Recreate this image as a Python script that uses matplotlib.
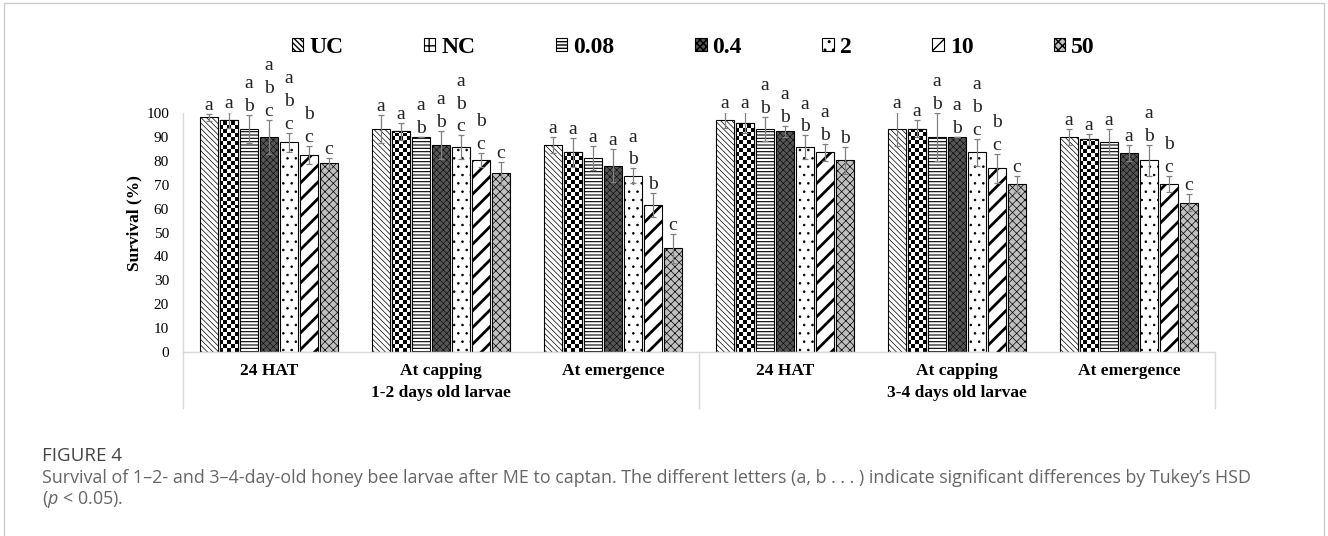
import numpy as np
import matplotlib
matplotlib.use('Agg')
import matplotlib.pyplot as plt
from matplotlib.patches import Rectangle

# data
categories = ['24 HAT', 'At capping', 'At emergence', '24 HAT', 'At capping', 'At emergence']
age_groups = ['1-2 days old larvae', '3-4 days old larvae']
treatments = ['UC', 'NC', '0.08', '0.4', '2', '10', '50']

surv_uc = [98.2, 93.4, 86.7, 97.0, 93.4, 90.0]
surv_nc = [97.0, 92.3, 83.5, 96.0, 93.4, 89.0]
surv_008 = [93.3, 90.0, 81.3, 93.4, 90.0, 87.9]
surv_04 = [90.0, 86.6, 78.0, 92.3, 90.0, 83.4]
surv_2 = [87.7, 85.6, 73.8, 85.6, 83.5, 80.2]
surv_10 = [82.4, 80.3, 61.5, 83.5, 76.8, 70.3]
surv_50 = [79.0, 74.8, 43.4, 80.2, 70.3, 62.5]

err_uc = [1.5, 5.8, 3.4, 3.3, 7.0, 3.4]
err_nc = [3.4, 3.4, 6.0, 4.3, 3.5, 2.2]
err_008 = [5.8, 0.0, 5.0, 5.0, 10.0, 5.3]
err_04 = [7.0, 6.0, 7.0, 2.3, 0.0, 3.3]
err_2 = [4.0, 5.0, 3.0, 5.0, 5.8, 6.5]
err_10 = [3.8, 3.0, 5.0, 3.4, 6.0, 3.3]
err_50 = [2.0, 4.8, 6.0, 5.7, 3.4, 3.5]

let_uc = ['a', 'a', 'a', 'a', 'a', 'a']
let_nc = ['a', 'a', 'a', 'a', 'a', 'a']
let_008 = ['ab', 'ab', 'a', 'ab', 'ab', 'a']
let_04 = ['abc', 'ab', 'a', 'ab', 'ab', 'a']
let_2 = ['abc', 'abc', 'ab', 'ab', 'abc', 'ab']
let_10 = ['bc', 'bc', 'b', 'ab', 'bc', 'bc']
let_50 = ['c', 'c', 'c', 'b', 'c', 'c']

values = [surv_uc, surv_nc, surv_008, surv_04, surv_2, surv_10, surv_50]
errors = [err_uc, err_nc, err_008, err_04, err_2, err_10, err_50]
letters = [let_uc, let_nc, let_008, let_04, let_2, let_10, let_50]

# (facecolor, hatch, hatch linewidth)
styles = [
    ('white', '\\\\\\\\\\\\', 0.5),
    ('white', '++', 1.5),
    ('white', '-----', 0.8),
    ('#555555', 'xxxxx', 0.4),
    ('white', '..', 0.6),
    ('white', '//', 2.0),
    ('#c0c0c0', 'xxxx', 0.5),
]

serif = 'Liberation Serif'
grid_col = '#d9d9d9'

fig = plt.figure(figsize=(13.28, 5.36), dpi=100)
ax = fig.add_axes([183 / 1328, 1 - 352 / 536, 1032 / 1328, 239 / 536])

x = np.arange(len(categories))
pitch = 0.1163
width = 0.099

containers = []
for j, name in enumerate(treatments):
    fc, hatch, hlw = styles[j]
    xs = x + (j - 3) * pitch
    with plt.rc_context({'hatch.linewidth': hlw}):
        bars = ax.bar(xs, values[j], width, color=fc, edgecolor='black', linewidth=0.8,
                      hatch=hatch, label=name, zorder=2)
        for b in bars:
            if hasattr(b, 'set_hatch_linewidth'):
                b.set_hatch_linewidth(hlw)
    containers.append(bars)
    if name == 'NC':
        # checkerboard texture for the NC bars
        checker = np.indices((60, 258)).sum(axis=0) % 2
        for b in bars:
            im = ax.imshow(checker, cmap='gray', extent=(-0.5, 5.5, 0, 100), aspect='auto',
                           interpolation='nearest', zorder=2.1)
            im.set_clip_path(b)
        ax.bar(xs, values[j], width, fill=False, edgecolor='black', linewidth=0.8, zorder=2.2)
    ax.errorbar(xs, values[j], yerr=errors[j], fmt='none', ecolor='#808080', elinewidth=0.9,
                capsize=2.5, capthick=0.9, zorder=4)
    for xi, v, e, lab in zip(xs, values[j], errors[j], letters[j]):
        ax.text(xi, v + e, '\n'.join(lab), ha='center', va='bottom', fontsize=14,
                family=serif, color='#222222', linespacing=1.45, zorder=5)

ax.set_xlim(-0.5, 5.5)
ax.set_ylim(0, 100)
ax.set_yticks(range(0, 101, 10))
ax.set_xticks(x)
ax.set_xticklabels(categories, fontsize=12.5, fontweight='bold', family=serif)
for t in ax.get_yticklabels():
    t.set_family(serif)
    t.set_fontsize(11)
ax.tick_params(axis='both', length=0)
ax.tick_params(axis='y', pad=10)
ax.tick_params(axis='x', pad=8)
for s in ['top', 'right']:
    ax.spines[s].set_visible(False)
for s in ['left', 'bottom']:
    ax.spines[s].set_color(grid_col)
    ax.spines[s].set_linewidth(1)

ax.set_ylabel('Survival (%)', fontsize=12.5, fontweight='bold', family=serif)
ax.yaxis.set_label_coords(-0.039, 0.54)

# multi-level category axis
for sx in [-0.5, 2.5, 5.5]:
    ax.plot([sx, sx], [0, -0.234], transform=ax.get_xaxis_transform(), clip_on=False,
            color=grid_col, lw=1)
for k, g in enumerate(age_groups):
    ax.text(1 + 3 * k, -0.172, g, transform=ax.get_xaxis_transform(), ha='center',
            va='center', fontsize=12.5, fontweight='bold', family=serif)

fig.legend(handles=containers, ncol=7, loc='center', bbox_to_anchor=(0.522, 0.912),
           frameon=False, prop=dict(family=serif, weight='bold', size=17),
           handlelength=0.5, handleheight=0.5, handletextpad=0.25, columnspacing=3.4)

# figure frame and caption
fig.patches.append(Rectangle((4 / 1328, -0.02), 1320 / 1328, 1.02 - 3 / 536,
                             transform=fig.transFigure, fill=False, edgecolor='#cccccc', lw=1))
plt.rcParams['mathtext.fontset'] = 'custom'
plt.rcParams['mathtext.it'] = 'Open Sans:italic'
plt.rcParams['mathtext.rm'] = 'Open Sans'
fig.text(42 / 1328, 1 - 456 / 536, 'FIGURE 4', fontsize=13.5, color='#444444',
         family='Open Sans', va='center')
fig.text(42 / 1328, 1 - 478 / 536,
         'Survival of 1\u20132- and 3\u20134-day-old honey bee larvae after ME to captan. '
         'The different letters (a, b . . . ) indicate significant differences by Tukey\u2019s HSD',
         fontsize=12.9, color='#666666', family='Open Sans', va='center')
fig.text(42 / 1328, 1 - 500 / 536, '($\\mathit{p}$ < 0.05).', fontsize=12.9, color='#666666',
         family='Open Sans', va='center')

fig.savefig('out.png', dpi=100)
